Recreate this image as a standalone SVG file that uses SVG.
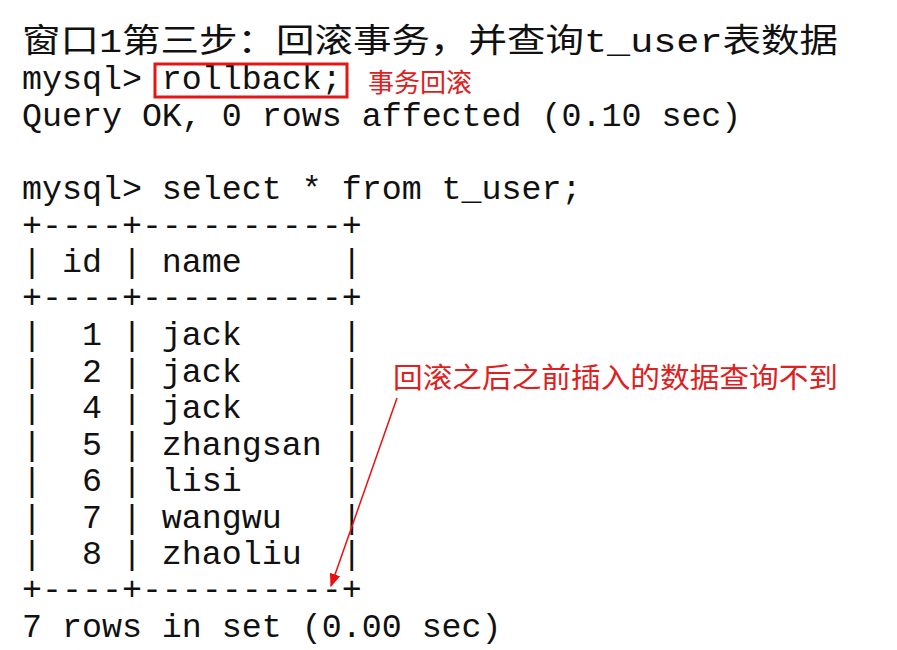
<svg xmlns="http://www.w3.org/2000/svg" width="897" height="650" viewBox="0 0 897 650">
<defs>
<style>
.t{font-family:"Liberation Mono","Noto Sans CJK SC",monospace;font-size:33.3px;fill:#111;white-space:pre}
.r{font-family:"Noto Sans CJK SC",sans-serif;fill:#e02020}
</style>
<marker id="ah" viewBox="0 0 10 10" refX="9" refY="5" markerWidth="9" markerHeight="9" orient="auto"><path d="M0,1 L10,5 L0,9 z" fill="#e81010"/></marker>
</defs>
<rect width="897" height="650" fill="#fff"/>
<g id="terminal" xml:space="preserve">
<text class="t" x="22" y="52" textLength="816" lengthAdjust="spacingAndGlyphs">窗口1第三步：回滚事务，并查询t_user表数据</text>
<text class="t" x="22" y="89">mysql> rollback;</text>
<text class="t" x="22" y="126">Query OK, 0 rows affected (0.10 sec)</text>
<text class="t" x="22" y="199">mysql> select * from t_user;</text>
<text class="t" x="22" y="236">+----+----------+</text>
<text class="t" x="22" y="272">| id | name     |</text>
<text class="t" x="22" y="308">+----+----------+</text>
<text class="t" x="22" y="345">|  1 | jack     |</text>
<text class="t" x="22" y="382">|  2 | jack     |</text>
<text class="t" x="22" y="418">|  4 | jack     |</text>
<text class="t" x="22" y="455">|  5 | zhangsan |</text>
<text class="t" x="22" y="491">|  6 | lisi     |</text>
<text class="t" x="22" y="528">|  7 | wangwu   |</text>
<text class="t" x="22" y="564">|  8 | zhaoliu  |</text>
<text class="t" x="22" y="600">+----+----------+</text>
<text class="t" x="22" y="637">7 rows in set (0.00 sec)</text>
</g>
<g id="rollback-box">
<rect x="155" y="64" width="192" height="33" fill="none" stroke="#e01818" stroke-width="3"/>
<text class="r" x="368" y="92" font-size="26">事务回滚</text>
</g>
<g id="note">
<text class="r" x="393" y="388" font-size="28" textLength="445" lengthAdjust="spacingAndGlyphs">回滚之后之前插入的数据查询不到</text>
</g>
<g id="connectors">
<line x1="397" y1="398" x2="331" y2="586" stroke="#e81010" stroke-width="1.5" marker-end="url(#ah)"/>
</g>
</svg>
